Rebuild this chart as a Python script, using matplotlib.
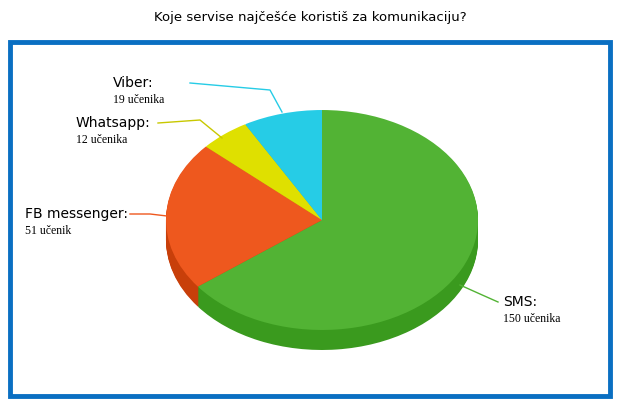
import matplotlib
matplotlib.use("Agg")
import matplotlib.pyplot as plt
from matplotlib.transforms import Affine2D
from matplotlib.patches import Rectangle

categories = ["SMS", "FB messenger", "Whatsapp", "Viber"]
values = [150, 51, 12, 19]
counts = ["150 učenika", "51 učenik", "12 učenika", "19 učenika"]
colors = ["#52b334", "#ee581e", "#dfe000", "#26cce6"]
side_colors = ["#3a9a1e", "#c83f0a", "#b8b800", "#1aa8c0"]

fig = plt.figure(figsize=(6.2, 4.0), dpi=100)
ax = fig.add_axes([0, 0, 1, 1])
ax.set_xlim(0, 620)
ax.set_ylim(0, 400)
ax.axis("off")

cx, cy, r, sy = 322, 180, 156, 0.705
depth = 20
for k in range(depth, 0, -1):
    wedges, _ = ax.pie(values, startangle=90, counterclock=False, radius=r,
                       center=(cx, cy - k), colors=side_colors,
                       wedgeprops=dict(linewidth=0), frame=True)
    for w in wedges:
        w.set_transform(Affine2D().translate(-cx, -(cy - k)).scale(1, sy)
                        .translate(cx, cy - k) + ax.transData)
wedges, _ = ax.pie(values, startangle=90, counterclock=False, radius=r,
                   center=(cx, cy), colors=colors,
                   wedgeprops=dict(linewidth=0), frame=True)
for w in wedges:
    w.set_transform(Affine2D().translate(-cx, -cy).scale(1, sy).translate(cx, cy) + ax.transData)
ax.set_xlim(0, 620)
ax.set_ylim(0, 400)
ax.axis("off")

ax.add_patch(Rectangle((10, 4), 600, 354, fill=False, edgecolor="#0a6fc2", linewidth=3.5))
ax.text(310, 383, "Koje servise najčešće koristiš za komunikaciju?", ha="center", va="center", fontsize=9.5)

labels_pos = [(503, 98, "left"), (25, 186, "left"), (76, 277, "left"), (113, 317, "left")]
lines = [[(498, 98), (480, 106), (460, 115)],
         [(130, 186), (150, 186), (167, 184)],
         [(158, 277), (200, 280), (222, 262)],
         [(190, 317), (270, 310), (282, 288)]]
for i, (x, y, ha) in enumerate(labels_pos):
    ax.text(x, y, categories[i] + ":", ha=ha, va="center", fontsize=10)
    ax.text(x, y - 17, counts[i], ha=ha, va="center", fontsize=8.5, family="Liberation Serif")
    xs, ys = zip(*lines[i])
    ax.plot(xs, ys, color=colors[i] if i != 2 else "#c8c800", linewidth=1)

fig.savefig("out.png", dpi=100)
